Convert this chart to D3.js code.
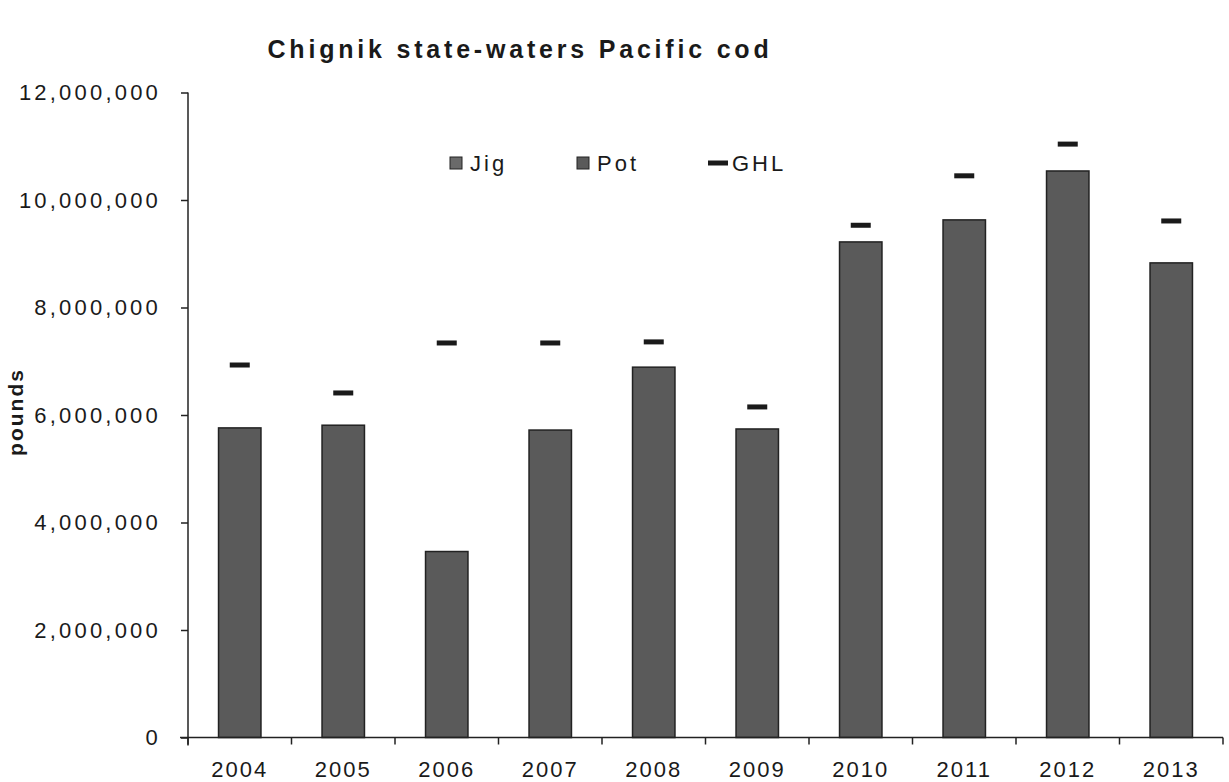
<html>
<head>
	<title>Chignik state-waters Pacific cod</title>
	<style>
		body { margin: 0; background: #fff; }
		text { font-family: "Liberation Sans", Arial, sans-serif; fill: #1a1a1a; }
	</style>
</head>
<body>
	<div id="chart"></div>
	<script src="https://d3js.org/d3.v7.min.js" charset="utf-8"></script>
	<script>
		// values (pounds)
		var years = ["2004", "2005", "2006", "2007", "2008", "2009", "2010", "2011", "2012", "2013"];
		var jig = [0, 0, 0, 0, 0, 0, 0, 0, 0, 0];
		var pot = [5760000, 5810000, 3460000, 5720000, 6890000, 5740000, 9220000, 9630000, 10540000, 8830000];
		var ghl = [6930000, 6410000, 7340000, 7340000, 7360000, 6150000, 9530000, 10450000, 11040000, 9610000];
		var yTicks = [0, 2000000, 4000000, 6000000, 8000000, 10000000, 12000000];
		var seriesNames = ["Jig", "Pot", "GHL"];

		var width = 1229, height = 782;
		var plotLeft = 188, plotRight = 1223, plotTop = 92.5, plotBottom = 737.5;

		var svg = d3.select("#chart").append("svg")
			.attr("width", width)
			.attr("height", height);

		var x = d3.scaleBand().domain(years).range([plotLeft, plotRight]).paddingInner(0.59).paddingOuter(0.295);
		var y = d3.scaleLinear().domain([0, 12000000]).range([plotBottom, plotTop]);

		// title
		svg.append("text")
			.attr("x", 520).attr("y", 58)
			.attr("text-anchor", "middle")
			.attr("font-size", "25px")
			.attr("font-weight", "bold")
			.attr("letter-spacing", "3.8px")
			.text("Chignik state-waters Pacific cod");

		// stacked bars: Jig at bottom, Pot on top
		var rows = years.map(function(yr, i) { return { year: yr, Jig: jig[i], Pot: pot[i] }; });
		var stack = d3.stack().keys(["Jig", "Pot"])(rows);
		var fills = { Jig: "#6a6a6a", Pot: "#5a5a5a" };

		stack.forEach(function(layer) {
			svg.append("g").selectAll("rect")
				.data(layer.filter(function(d) { return d[1] > d[0]; }))
				.enter().append("rect")
				.attr("x", function(d) { return x(d.data.year); })
				.attr("width", x.bandwidth())
				.attr("y", function(d) { return y(d[1]); })
				.attr("height", function(d) { return y(d[0]) - y(d[1]); })
				.attr("fill", fills[layer.key])
				.attr("stroke", "#222")
				.attr("stroke-width", 1.5);
		});

		// GHL markers
		svg.append("g").selectAll("rect")
			.data(ghl)
			.enter().append("rect")
			.attr("x", function(d, i) { return x(years[i]) + x.bandwidth() / 2 - 10; })
			.attr("y", function(d) { return y(d) - 2.5; })
			.attr("width", 20)
			.attr("height", 5)
			.attr("fill", "#1a1a1a");

		// y axis
		var yAxis = d3.axisLeft(y).tickValues(yTicks).tickSize(7).tickPadding(20)
			.tickFormat(d3.format(","));
		var gy = svg.append("g").attr("transform", "translate(" + plotLeft + ",0)").call(yAxis);
		gy.select(".domain").attr("stroke", "#222").attr("stroke-width", 1.5).attr("d", "M0," + plotTop + "V" + (plotBottom + 8));
		gy.selectAll(".tick line").attr("stroke", "#222").attr("stroke-width", 1.5);
		gy.selectAll(".tick text").attr("font-size", "22px").attr("letter-spacing", "3.2px")
			.attr("font-family", "Liberation Sans, Arial, sans-serif").attr("fill", "#1a1a1a");

		// x axis
		var xAxis = d3.axisBottom(x).tickSize(0).tickPadding(24);
		var gx = svg.append("g").attr("transform", "translate(0," + plotBottom + ")").call(xAxis);
		gx.select(".domain").attr("stroke", "#222").attr("stroke-width", 1.5).attr("d", "M" + (plotLeft - 8) + ",0H" + plotRight);
		gx.selectAll(".tick text").attr("font-size", "22px").attr("letter-spacing", "2px")
			.attr("font-family", "Liberation Sans, Arial, sans-serif").attr("fill", "#1a1a1a");
		// category boundary ticks
		gx.append("g").selectAll("line")
			.data(years.concat(["end"]))
			.enter().append("line")
			.attr("x1", function(d, i) { return plotLeft + i * x.step(); })
			.attr("x2", function(d, i) { return plotLeft + i * x.step(); })
			.attr("y1", 0).attr("y2", 7)
			.attr("stroke", "#222").attr("stroke-width", 1.5);

		// y axis title
		svg.append("text")
			.attr("transform", "translate(23,412) rotate(-90)")
			.attr("text-anchor", "middle")
			.attr("font-size", "21px")
			.attr("font-weight", "bold")
			.attr("letter-spacing", "2px")
			.text("pounds");

		// legend
		var legend = svg.append("g").attr("transform", "translate(450,163)");
		var legendX = [0, 127, 258];
		seriesNames.forEach(function(name, i) {
			var g = legend.append("g").attr("transform", "translate(" + legendX[i] + ",0)");
			if (name === "GHL") {
				g.append("rect").attr("x", 0).attr("y", -2.5).attr("width", 20).attr("height", 5).attr("fill", "#1a1a1a");
			} else {
				g.append("rect").attr("x", 0).attr("y", -6).attr("width", 12).attr("height", 12)
					.attr("fill", fills[name]).attr("stroke", "#222").attr("stroke-width", 1);
			}
			g.append("text").attr("x", name === "GHL" ? 24 : 20).attr("y", 8)
				.attr("font-size", "22px").attr("letter-spacing", "3px")
				.text(name);
		});
	</script>
</body>
</html>
